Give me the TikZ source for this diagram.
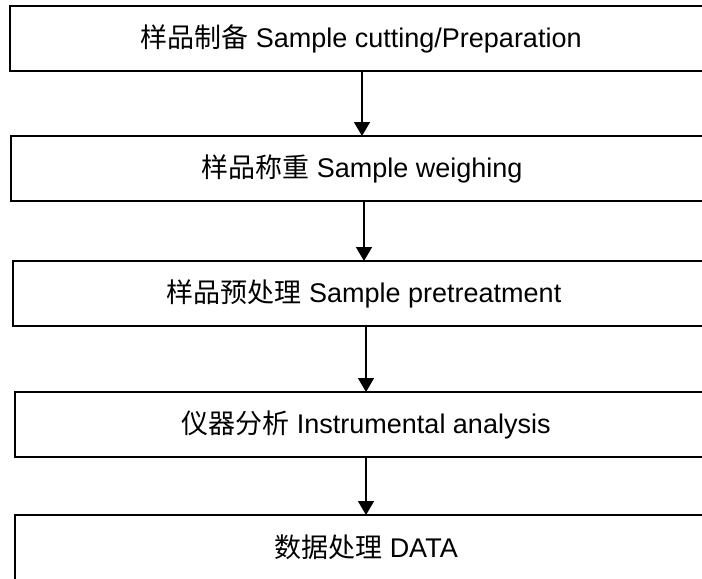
\documentclass[tikz,border=0pt]{standalone}
\usepackage{fontspec}
\setmainfont{Liberation Sans}
\newfontfamily\cjk{Noto Sans CJK SC}
\usetikzlibrary{
  arrows.meta,
  positioning
}

\begin{document}
\begin{tikzpicture}[
  x=0.75pt, y=-0.75pt,
  stepbox/.style={draw, line width=1.5pt, minimum width=526.5pt,
                  minimum height=48.75pt, inner sep=0pt, outer sep=0pt,
                  font=\fontsize{20.25}{24}\selectfont},
  arr/.style={-{Triangle[length=10.5pt, width=12pt]}, line width=1.1pt}
]
  \useasboundingbox (0,0) rectangle (702,578);
  \clip (0,0) rectangle (702,578);

  % process steps
  \node[stepbox] (cut) at (361,38.5) {{\cjk 样品制备} Sample cutting/Preparation};
  \node[stepbox, below=48.75pt of cut, xshift=0.75pt] (weigh)
    {{\cjk 样品称重} Sample weighing};
  \node[stepbox, below=45pt of weigh, xshift=1.5pt] (pretreat)
    {{\cjk 样品预处理} Sample pretreatment};
  \node[stepbox, below=49.5pt of pretreat, xshift=1.5pt] (instr)
    {{\cjk 仪器分析} Instrumental analysis};
  \node[stepbox, below=43.5pt of instr] (data)
    {{\cjk 数据处理} DATA};

  % Arrows
  \draw[arr] (weigh.north |- cut.south) -- (weigh.north);
  \draw[arr] (pretreat.north |- weigh.south) -- (pretreat.north);
  \draw[arr] (instr.north |- pretreat.south) -- (instr.north);
  \draw[arr] (data.north |- instr.south) -- (data.north);

\end{tikzpicture}
\end{document}
